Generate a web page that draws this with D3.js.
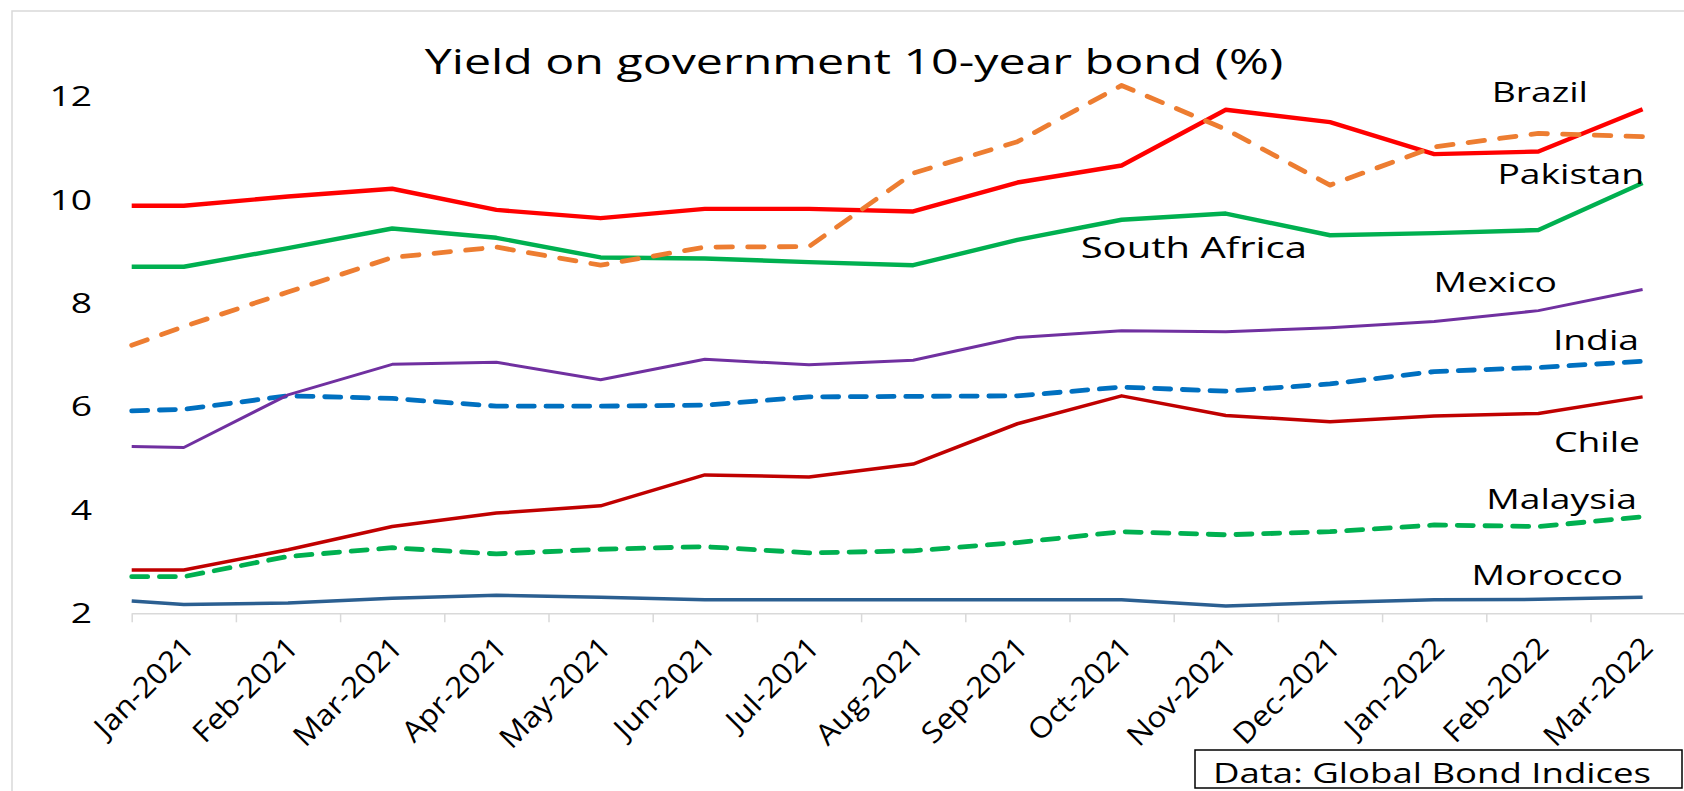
<!DOCTYPE html>
<html>
<head>
<meta charset="utf-8">
<script src="https://cdn.jsdelivr.net/npm/d3@7"></script>
<style>
  html, body { margin: 0; padding: 0; background: #ffffff; }
  svg { display: block; }
</style>
</head>
<body>
<script>
// ---- data -------------------------------------------------------------
const months = ["Jan-2021", "Feb-2021", "Mar-2021", "Apr-2021", "May-2021", "Jun-2021",
  "Jul-2021", "Aug-2021", "Sep-2021", "Oct-2021", "Nov-2021", "Dec-2021",
  "Jan-2022", "Feb-2022", "Mar-2022"];
const yTickValues = [2, 4, 6, 8, 10, 12];

const countries = ["Morocco", "Malaysia", "Chile", "India", "Mexico", "South Africa", "Brazil", "Pakistan"];

// yield at the start of the period (left edge of the axis), same order as countries
const openingYields = [2.24, 2.71, 2.84, 5.92, 5.23, 8.71, 9.89, 7.19];

// monthly 10-year yields, %
const morocco     = [2.17, 2.20, 2.29, 2.35, 2.31, 2.26, 2.26, 2.26, 2.26, 2.26, 2.14, 2.21, 2.26, 2.27, 2.31];
const malaysia    = [2.71, 3.10, 3.27, 3.15, 3.24, 3.29, 3.17, 3.21, 3.37, 3.58, 3.52, 3.58, 3.71, 3.68, 3.87];
const chile       = [2.84, 3.23, 3.68, 3.94, 4.08, 4.68, 4.64, 4.89, 5.67, 6.21, 5.83, 5.71, 5.82, 5.87, 6.19];
const india       = [5.95, 6.21, 6.16, 6.01, 6.01, 6.03, 6.19, 6.20, 6.21, 6.38, 6.30, 6.44, 6.68, 6.76, 6.88];
const mexico      = [5.21, 6.23, 6.82, 6.86, 6.52, 6.92, 6.81, 6.90, 7.34, 7.47, 7.45, 7.53, 7.65, 7.86, 8.27];
const southAfrica = [8.71, 9.07, 9.45, 9.27, 8.89, 8.87, 8.80, 8.74, 9.23, 9.62, 9.74, 9.32, 9.36, 9.42, 10.33];
const brazil      = [9.89, 10.07, 10.22, 9.81, 9.65, 9.83, 9.83, 9.78, 10.34, 10.67, 11.75, 11.51, 10.89, 10.94, 11.76];
const pakistan    = [7.55, 8.22, 8.89, 9.09, 8.74, 9.09, 9.10, 10.52, 11.13, 12.22, 11.37, 10.29, 11.03, 11.29, 11.23];

const seriesValues = [morocco, malaysia, chile, india, mexico, southAfrica, brazil, pakistan];

// ---- styles & layout ----------------------------------------------------
const seriesStyle = [
  { color: "#2B5F91", width: 3.5, dash: null },
  { color: "#00B050", width: 4.8, dash: "16 11.7" },
  { color: "#C00000", width: 3.5, dash: null },
  { color: "#0070C0", width: 4.8, dash: "16 11.7" },
  { color: "#7030A0", width: 3.0, dash: null },
  { color: "#00B050", width: 4.4, dash: null },
  { color: "#FF0000", width: 4.4, dash: null },
  { color: "#ED7D31", width: 4.8, dash: "16.5 15.2" }
];

// name tags: right end of the text, baseline, font size
const labelSpots = [
  { x: 1623, y: 585, size: 27 },
  { x: 1637, y: 509, size: 27 },
  { x: 1640, y: 452, size: 27 },
  { x: 1639, y: 350, size: 27 },
  { x: 1557, y: 292, size: 27 },
  { x: 1307, y: 258, size: 29 },
  { x: 1588, y: 102, size: 27 },
  { x: 1644, y: 184, size: 27 }
];

const W = 1684, H = 791;
const K = 1.38;               // horizontal stretch of the upright type
const K_MONTH = 1.08;         // stretch along the baseline of the slanted month labels
const FONT = "'Open Sans', 'Noto Sans', sans-serif";
const plot = { left: 131.7, step: 104.2, top: 96.8, bottom: 613.3 };
plot.right = plot.left + plot.step * months.length;

const svg = d3.select("body").append("svg")
  .attr("width", W).attr("height", H)
  .style("font-family", FONT);

// stretched text helper (rotation is applied before the stretch along the baseline)
function stretchedText(g, x, y, str, size, anchor, rotate, k) {
  return g.append("text")
    .attr("transform", `translate(${x},${y})` + (rotate ? ` rotate(${rotate})` : "") + ` scale(${k || K},1)`)
    .attr("text-anchor", anchor)
    .attr("font-size", size)
    .attr("fill", "#000")
    .text(str);
}

// chart frame
svg.append("rect")
  .attr("x", 12).attr("y", 11)
  .attr("width", 1720).attr("height", 820)
  .attr("fill", "none").attr("stroke", "#d9d9d9").attr("stroke-width", 1.5);

// scales
const x = d3.scaleBand().domain(months).range([plot.left, plot.right]).paddingInner(0).paddingOuter(0);
const y = d3.scaleLinear().domain([2, 12]).range([plot.bottom, plot.top]);
const xEdge = d3.scaleLinear().domain([0, months.length]).range([plot.left, plot.right]);

// x axis with ticks on the month boundaries
const axisG = svg.append("g")
  .attr("transform", `translate(0,${plot.bottom})`)
  .call(d3.axisBottom(xEdge).ticks(months.length).tickSize(9).tickSizeOuter(0).tickFormat(""));
axisG.selectAll("path, line").attr("stroke", "#d9d9d9").attr("stroke-width", 1.5);

// month labels, rotated
const monthG = svg.append("g");
months.forEach(m => {
  const cx = x(m) + x.bandwidth() / 2;
  stretchedText(monthG, cx + 12, plot.bottom + 36, m, 29, "end", -45, K_MONTH);
});

// y labels
const yG = svg.append("g");
yTickValues.forEach(v => {
  stretchedText(yG, 92, y(v) + 9.6, String(v), 27, "end");
});

// title
stretchedText(svg, 854, 74, "Yield on government 10-year bond (%)", 35, "middle");

// lines
const line = d3.line().x(d => d.x).y(d => y(d.v)).curve(d3.curveLinear);
const linesG = svg.append("g").attr("fill", "none");
countries.forEach((c, i) => {
  const pts = [{ x: x.range()[0], v: openingYields[i] }]
    .concat(months.map((m, j) => ({ x: x(m) + x.bandwidth() / 2, v: seriesValues[i][j] })));
  const st = seriesStyle[i];
  const p = linesG.append("path")
    .datum(pts)
    .attr("d", line)
    .attr("stroke", st.color)
    .attr("stroke-width", st.width)
    .attr("stroke-linejoin", "round");
  if (st.dash) p.attr("stroke-dasharray", st.dash).attr("stroke-linecap", "round");
});

// country name tags
const tagG = svg.append("g");
countries.forEach((c, i) => {
  stretchedText(tagG, labelSpots[i].x, labelSpots[i].y, c, labelSpots[i].size, "end");
});

// source box
svg.append("rect")
  .attr("x", 1195).attr("y", 750).attr("width", 487).attr("height", 38)
  .attr("fill", "#fff").attr("stroke", "#000").attr("stroke-width", 1.5);
stretchedText(svg, 1213, 783, "Data: Global Bond Indices", 26.5, "start");
</script>
</body>
</html>
